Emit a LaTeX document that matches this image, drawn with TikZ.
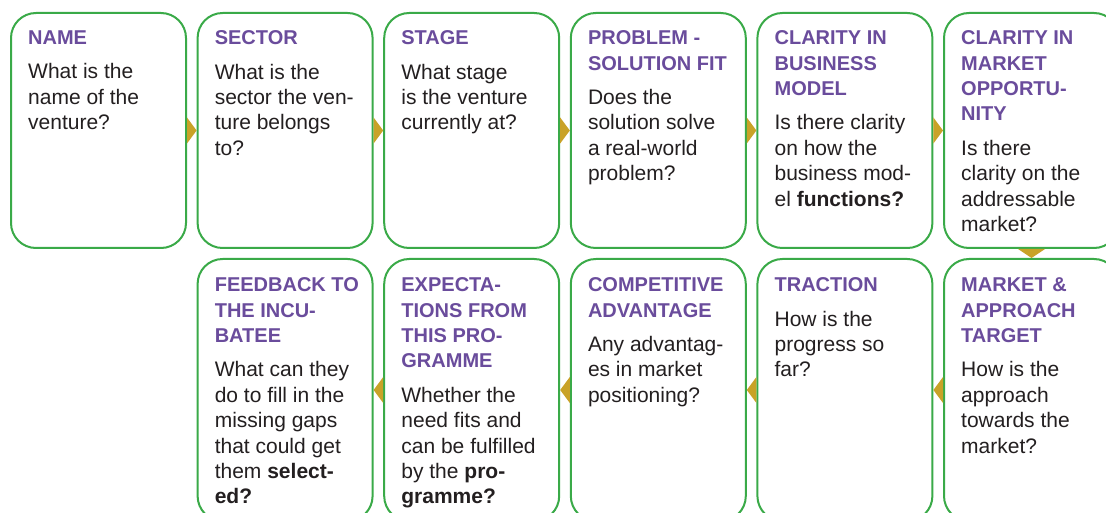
\documentclass[tikz,border=0pt]{standalone}
\usepackage{fontspec}
\setmainfont{Liberation Sans}
\usetikzlibrary{calc}
\definecolor{cardgreen}{HTML}{3AAA48}
\definecolor{headpurple}{HTML}{6A4C9C}
\definecolor{arrowgold}{HTML}{C9A227}
\definecolor{bodytext}{HTML}{231F20}
\newcommand{\hd}[1]{{\fontsize{20}{25.4}\selectfont\bfseries\color{headpurple}#1}}
\begin{document}
\begin{tikzpicture}[x=1pt,y=-1pt,
  card/.style={draw=cardgreen, line width=2pt, rounded corners=25pt, minimum width=175pt, inner sep=0pt, fill=white},
  toprow/.style={card, minimum height=235pt},
  botrow/.style={card, minimum height=262pt},
  txt/.style={anchor=north west, align=left, inner sep=0pt, text=bodytext, font=\fontsize{21}{25.4}\selectfont},
  tri/.style={fill=arrowgold, draw=none}
]
\useasboundingbox (0,0) rectangle (1106,513);
\clip (0,0) rectangle (1106,513);

% top row boxes
\node[toprow] (t1) at (98.5,130.5) {};
\node[toprow] (t2) at (285.1,130.5) {};
\node[toprow] (t3) at (471.7,130.5) {};
\node[toprow] (t4) at (658.3,130.5) {};
\node[toprow] (t5) at (844.9,130.5) {};
\node[toprow] (t6) at (1031.5,130.5) {};
% bottom row boxes
\node[botrow] (b2) at (285.1,390) {};
\node[botrow] (b3) at (471.7,390) {};
\node[botrow] (b4) at (658.3,390) {};
\node[botrow] (b5) at (844.9,390) {};
\node[botrow] (b6) at (1031.5,390) {};

% texts top row
\node[txt] (t1x) at (28,30.6) {\hd{NAME}\\[9pt]What is the\\name of the\\venture?};
\node[txt] (t2x) at (214.6,30.6) {\hd{SECTOR}\\[9pt]What is the\\sector the ven-\\ture belongs\\to?};
\node[txt] (t3x) at (401.2,30.6) {\hd{STAGE}\\[9pt]What stage\\is the venture\\currently at?};
\node[txt] (t4x) at (587.8,30.6) {\hd{PROBLEM -}\\\hd{SOLUTION FIT}\\[9pt]Does the\\solution solve\\a real-world\\problem?};
\node[txt] (t5x) at (774.4,30.6) {\hd{CLARITY IN}\\\hd{BUSINESS}\\\hd{MODEL}\\[9pt]Is there clarity\\on how the\\business mod-\\el \textbf{functions?}};
\node[txt] (t6x) at (961,30.6) {\hd{CLARITY IN}\\\hd{MARKET}\\\hd{OPPORTU-}\\\hd{NITY}\\[9pt]Is there\\clarity on the\\addressable\\market?};
% texts bottom row
\node[txt] (b6x) at (961,277.6) {\hd{MARKET \&}\\\hd{APPROACH}\\\hd{TARGET}\\[9pt]How is the\\approach\\towards the\\market?};
\node[txt] (b5x) at (774.4,277.6) {\hd{TRACTION}\\[9pt]How is the\\progress so\\far?};
\node[txt] (b4x) at (587.8,277.6) {\hd{COMPETITIVE}\\\hd{ADVANTAGE}\\[9pt]Any advantag-\\es in market\\positioning?};
\node[txt] (b3x) at (401.2,277.6) {\hd{EXPECTA-}\\\hd{TIONS FROM}\\\hd{THIS PRO-}\\\hd{GRAMME}\\[9pt]Whether the\\need fits and\\can be fulfilled\\by the \textbf{pro-}\\\textbf{gramme?}};
\node[txt] (b2x) at (214.6,277.6) {\hd{FEEDBACK TO}\\\hd{THE INCU-}\\\hd{BATEE}\\[9pt]What can they\\do to fill in the\\missing gaps\\that could get\\them \textbf{select-}\\\textbf{ed?}};

% connectors (gold triangles)
\fill[tri] ($(t1.east)+(0,-13)$) -- ($(t1.east)+(0,13)$) -- (t2.west) -- cycle;
\fill[tri] ($(t2.east)+(0,-13)$) -- ($(t2.east)+(0,13)$) -- (t3.west) -- cycle;
\fill[tri] ($(t3.east)+(0,-13)$) -- ($(t3.east)+(0,13)$) -- (t4.west) -- cycle;
\fill[tri] ($(t4.east)+(0,-13)$) -- ($(t4.east)+(0,13)$) -- (t5.west) -- cycle;
\fill[tri] ($(t5.east)+(0,-13)$) -- ($(t5.east)+(0,13)$) -- (t6.west) -- cycle;
\fill[tri] ($(t6.south)+(-13.5,0)$) -- ($(t6.south)+(13.5,0)$) -- (b6.north) -- cycle;
\fill[tri] ($(b6.west)+(0,-13)$) -- ($(b6.west)+(0,13)$) -- (b5.east) -- cycle;
\fill[tri] ($(b5.west)+(0,-13)$) -- ($(b5.west)+(0,13)$) -- (b4.east) -- cycle;
\fill[tri] ($(b4.west)+(0,-13)$) -- ($(b4.west)+(0,13)$) -- (b3.east) -- cycle;
\fill[tri] ($(b3.west)+(0,-13)$) -- ($(b3.west)+(0,13)$) -- (b2.east) -- cycle;
\end{tikzpicture}
\end{document}
